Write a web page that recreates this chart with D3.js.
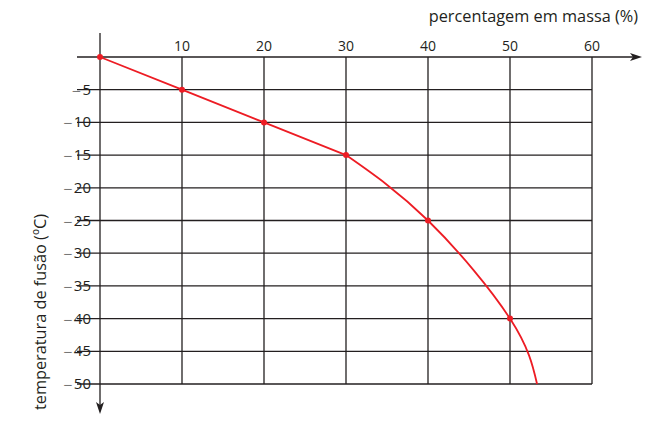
<!DOCTYPE html>
<html><head><meta charset="utf-8">
<script src="https://cdn.jsdelivr.net/npm/d3@7"></script>
<style>body{margin:0;background:#fff}svg{display:block}text{font-family:"Open Sans",sans-serif;fill:#231f20}</style>
</head><body>
<svg id="c" width="646" height="422"></svg>
<script>
const massPct = [0, 10, 20, 30, 40, 50, 53.3];
const tempC = [0, -5, -10, -15, -25, -40, -50];
const markerCount = 6;
const linearCount = 4;
const xTicks = [10, 20, 30, 40, 50, 60];
const yTicks = [-5, -10, -15, -20, -25, -30, -35, -40, -45, -50];
const xTitle = "percentagem em massa (%)";
const yTitle = "temperatura de fusão (ºC)";

const svg = d3.select("#c");
const x = d3.scaleLinear().domain([0, 60]).range([100, 592]);
const y = d3.scaleLinear().domain([0, -50]).range([57, 384]);
const ink = "#231f20";

// horizontal grid
svg.append("g").selectAll("line").data(yTicks).join("line")
  .attr("x1", 77).attr("x2", x(60)).attr("y1", d => y(d)).attr("y2", d => y(d))
  .attr("stroke", ink).attr("stroke-width", 1.3);
// vertical grid
svg.append("g").selectAll("line").data(xTicks).join("line")
  .attr("x1", d => x(d)).attr("x2", d => x(d)).attr("y1", y(0)).attr("y2", y(-50))
  .attr("stroke", ink).attr("stroke-width", 1.3);
// axes
svg.append("line").attr("x1", 77).attr("x2", 634).attr("y1", y(0)).attr("y2", y(0)).attr("stroke", ink).attr("stroke-width", 1.3);
svg.append("path").attr("d", `M642,${y(0)} L630,${y(0)-4} L633,${y(0)} L630,${y(0)+4} Z`).attr("fill", ink);
svg.append("line").attr("x1", x(0)).attr("x2", x(0)).attr("y1", 33).attr("y2", 406).attr("stroke", ink).attr("stroke-width", 1.3);
svg.append("path").attr("d", `M${x(0)},414 L${x(0)-4},402 L${x(0)},405 L${x(0)+4},402 Z`).attr("fill", ink);

// tick labels
svg.append("g").selectAll("text").data(xTicks).join("text")
  .attr("x", d => x(d)).attr("y", 51).attr("text-anchor", "middle")
  .attr("font-size", 14).text(d => d);
const yl = svg.append("g").selectAll("text").data(yTicks).join("text")
  .attr("x", 91).attr("y", d => y(d) + 5).attr("text-anchor", "end")
  .style("font-size", "15px");
yl.append("tspan").style("fill", "#777").style("font-family", "'DejaVu Sans'").style("font-size", "12px").text("\u2212");
yl.append("tspan").attr("dx", 1).text(d => Math.abs(d));

// titles
svg.append("text").attr("x", 638).attr("y", 22).attr("text-anchor", "end").attr("font-size", 16.3).text(xTitle);
svg.append("text").attr("transform", "translate(46,312) rotate(-90)").attr("text-anchor", "middle").attr("font-size", 16.3).text(yTitle);

// curve: straight segments, then smooth
const pts = massPct.map((m, i) => [m, tempC[i]]);
const straight = d3.line().x(d => x(d[0])).y(d => y(d[1]));
const smooth = d3.line().x(d => x(d[0])).y(d => y(d[1])).curve(d3.curveNatural);
const red = "#ed1c24";
svg.append("path").datum(pts.slice(0, linearCount)).attr("d", straight).attr("fill", "none").attr("stroke", red).attr("stroke-width", 1.8);
svg.append("path").datum(pts.slice(linearCount - 1)).attr("d", smooth).attr("fill", "none").attr("stroke", red).attr("stroke-width", 1.8);
svg.append("g").selectAll("circle").data(pts.slice(0, markerCount)).join("circle")
  .attr("cx", d => x(d[0])).attr("cy", d => y(d[1])).attr("r", 3).attr("fill", red);
</script>
</body></html>
